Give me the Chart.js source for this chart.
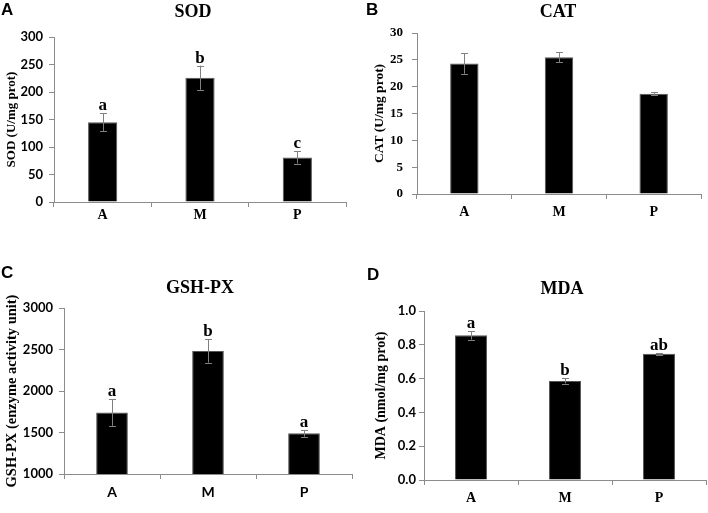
<!DOCTYPE html>
<html>
<head>
<meta charset="utf-8">
<script src="https://cdn.jsdelivr.net/npm/chart.js@4/dist/chart.umd.min.js"></script>
<style>
  html, body { margin: 0; padding: 0; background: #fff; }
  body { width: 708px; height: 513px; position: relative; overflow: hidden; }
  canvas { position: absolute; }
</style>
</head>
<body>
<canvas id="cA" width="354" height="240" style="left:0;top:0"></canvas>
<canvas id="cB" width="354" height="240" style="left:354px;top:0"></canvas>
<canvas id="cC" width="354" height="263" style="left:0;top:250px"></canvas>
<canvas id="cD" width="354" height="263" style="left:354px;top:250px"></canvas>
<script>
// ---- data ----
const categories = ['A', 'M', 'P'];

const sodValues = [145, 226, 81];
const sodErrors = [16, 22, 11];
const sodLetters = ['a', 'b', 'c'];

const catValues = [24.3, 25.5, 18.7];
const catErrors = [1.9, 0.9, 0.3];
const catLetters = ['', '', ''];

const gshValues = [1740, 2482, 1490];
const gshErrors = [160, 140, 40];
const gshLetters = ['a', 'b', 'a'];

const mdaValues = [0.856, 0.586, 0.747];
const mdaErrors = [0.025, 0.015, 0.005];
const mdaLetters = ['a', 'b', 'ab'];

const sodTicks = { min: 0, max: 300, step: 50 };
const catTicks = { min: 0, max: 30, step: 5 };
const gshTicks = { min: 1000, max: 3000, step: 500 };
const mdaTicks = { min: 0, max: 1, step: 0.2 };

// ---- styling ----
const SERIF = '"Liberation Serif", "Times New Roman", serif';
const SANS = 'Lato, "Liberation Sans", sans-serif';
const ARIAL = '"Liberation Sans", Arial, sans-serif';
const AXIS = '#8c8c8c';

const annotPlugin = {
  id: 'annot',
  afterDatasetsDraw(chart, args, o) {
    const ctx = chart.ctx;
    const ys = chart.scales.y;
    const meta = chart.getDatasetMeta(0);
    ctx.save();
    meta.data.forEach((bar, i) => {
      const v = o.values[i], e = o.errors[i];
      const yt = ys.getPixelForValue(v + e);
      const yb = ys.getPixelForValue(v - e);
      const x = Math.round(bar.x) + 0.5;
      ctx.strokeStyle = '#808080';
      ctx.lineWidth = 1;
      ctx.beginPath();
      ctx.moveTo(x, yt); ctx.lineTo(x, yb);
      ctx.moveTo(x - 3.5, Math.round(yt) + 0.5); ctx.lineTo(x + 3.5, Math.round(yt) + 0.5);
      ctx.moveTo(x - 3.5, Math.round(yb) + 0.5); ctx.lineTo(x + 3.5, Math.round(yb) + 0.5);
      ctx.stroke();
      if (o.letters[i]) {
        ctx.fillStyle = '#000';
        ctx.font = 'bold 17px ' + SERIF;
        ctx.textAlign = 'center';
        ctx.textBaseline = 'alphabetic';
        ctx.fillText(o.letters[i], bar.x, yt - 3);
      }
    });
    // title
    ctx.fillStyle = '#000';
    ctx.font = 'bold 18px ' + SERIF;
    ctx.textAlign = 'center';
    ctx.textBaseline = 'middle';
    ctx.fillText(o.title, o.titleX, o.titleY);
    // panel letter
    ctx.font = 'bold 17px ' + ARIAL;
    ctx.textAlign = 'left';
    ctx.fillText(o.panel, o.panelX, o.panelY);
    ctx.restore();
  }
};

function makeChart(id, cfg) {
  const el = document.getElementById(id);
  const H = el.height, W = el.width;
  return new Chart(el, {
    type: 'bar',
    data: {
      labels: categories,
      datasets: [{
        data: cfg.values,
        backgroundColor: '#000',
        borderColor: '#555',
        borderWidth: 1,
        categoryPercentage: 1,
        barPercentage: cfg.barPct
      }]
    },
    options: {
      responsive: false,
      animation: false,
      devicePixelRatio: 1,
      layout: { padding: { top: cfg.top, right: W - cfg.right, bottom: 0, left: 0 } },
      plugins: {
        legend: { display: false },
        tooltip: { enabled: false },
        annot: {
          values: cfg.values, errors: cfg.errors, letters: cfg.letters,
          title: cfg.title, titleX: cfg.titleX, titleY: cfg.titleY,
          panel: cfg.panel, panelX: cfg.panelX, panelY: cfg.panelY
        }
      },
      scales: {
        x: {
          grid: { display: true, drawOnChartArea: false, drawTicks: true, tickLength: 5, color: AXIS, offset: true },
          border: { display: true, color: AXIS, width: 1 },
          ticks: { color: '#000', font: { family: cfg.xFont, size: 14, weight: 'bold' }, padding: cfg.xPad },
          afterFit(s) { s.height = H - cfg.bottom; }
        },
        y: {
          min: cfg.ticks.min, max: cfg.ticks.max,
          grid: { display: true, drawOnChartArea: false, drawTicks: true, tickLength: 5, color: AXIS },
          border: { display: true, color: AXIS, width: 1 },
          ticks: {
            stepSize: cfg.ticks.step, color: '#000', padding: cfg.yPad,
            font: { family: cfg.yFont, size: cfg.yFontSize, weight: 'bold' },
            callback: cfg.fmt
          },
          title: {
            display: true, text: cfg.yTitle, color: '#000',
            font: { family: SERIF, size: cfg.yTitleSize, weight: 'bold' },
            padding: { top: cfg.yTitlePad, bottom: 0 }
          },
          afterFit(s) { s.width = cfg.left; }
        }
      }
    },
    plugins: [annotPlugin]
  });
}

makeChart('cA', {
  values: sodValues, errors: sodErrors, letters: sodLetters, ticks: sodTicks,
  title: 'SOD', titleX: 193, titleY: 12, panel: 'A', panelX: 1, panelY: 10,
  yTitle: 'SOD (U/mg prot)', yTitleSize: 13, yTitlePad: 4,
  left: 54, right: 346, top: 37, bottom: 202, barPct: 0.30,
  xFont: SERIF, xPad: 0, yFont: SANS, yFontSize: 13, yPad: 6,
  fmt: v => v
});
makeChart('cB', {
  values: catValues, errors: catErrors, letters: catLetters, ticks: catTicks,
  title: 'CAT', titleX: 204, titleY: 12, panel: 'B', panelX: 12, panelY: 10,
  yTitle: 'CAT (U/mg prot)', yTitleSize: 13.5, yTitlePad: 17,
  left: 63, right: 347, top: 33, bottom: 194, barPct: 0.30,
  xFont: SERIF, xPad: 5, yFont: SERIF, yFontSize: 13, yPad: 9,
  fmt: v => v
});
makeChart('cC', {
  values: gshValues, errors: gshErrors, letters: gshLetters, ticks: gshTicks,
  title: 'GSH-PX', titleX: 200, titleY: 38, panel: 'C', panelX: 1, panelY: 23,
  yTitle: 'GSH-PX (enzyme activity unit)', yTitleSize: 14.5, yTitlePad: 4,
  left: 64, right: 352, top: 58, bottom: 224, barPct: 0.33,
  xFont: SANS, xPad: 5, yFont: SANS, yFontSize: 13, yPad: 6,
  fmt: v => v
});
makeChart('cD', {
  values: mdaValues, errors: mdaErrors, letters: mdaLetters, ticks: mdaTicks,
  title: 'MDA', titleX: 208, titleY: 39, panel: 'D', panelX: 13, panelY: 25,
  yTitle: 'MDA (nmol/mg prot)', yTitleSize: 14, yTitlePad: 19,
  left: 70, right: 352, top: 61, bottom: 230, barPct: 0.34,
  xFont: SERIF, xPad: 5, yFont: SANS, yFontSize: 13, yPad: 3,
  fmt: v => Number(v).toFixed(1)
});
</script>
</body>
</html>
